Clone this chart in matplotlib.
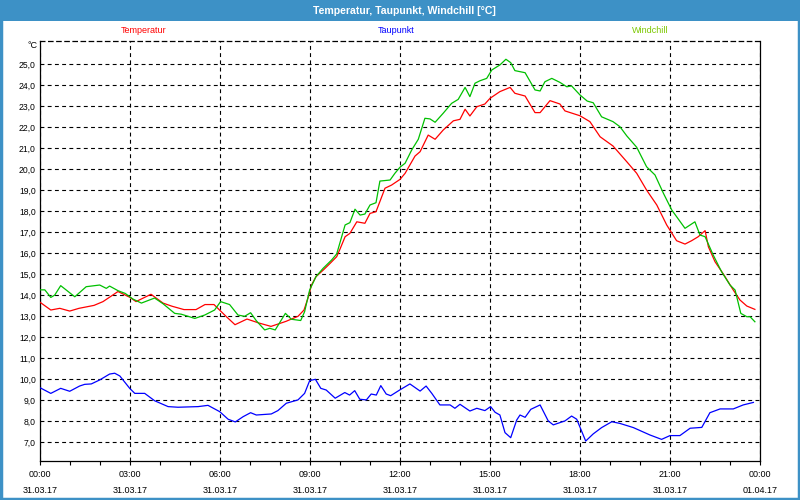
"""
Tagesverlauf Temperatur, Taupunkt, Windchill am 31.03.17
"""
import matplotlib

matplotlib.use("Agg")
import matplotlib.pyplot as plt
from matplotlib.patches import Rectangle
from matplotlib.ticker import FuncFormatter, MultipleLocator

plt.rcParams["font.family"] = ["Liberation Sans", "DejaVu Sans"]

# Stunden seit 31.03.17 00:00, Werte in °C
temp_hours = [0.0, 0.36, 0.66, 0.99, 1.3, 1.8, 2.1, 2.6, 3.0, 3.2, 3.7, 4.1, 4.4, 4.8, 5.2, 5.5, 5.8,
              6.2, 6.5, 6.9, 7.3, 7.7, 8.2, 8.6, 8.8, 8.94, 9.05, 9.2, 9.44, 9.67, 9.89, 10.0, 10.17,
              10.33, 10.56, 10.83, 11.0, 11.2, 11.5, 11.72, 12.0, 12.17, 12.5, 12.67, 12.94, 13.17,
              13.44, 13.78, 14.0, 14.17, 14.33, 14.56, 14.83, 15.0, 15.33, 15.67, 15.83, 16.17, 16.5,
              16.67, 17.0, 17.33, 17.5, 18.0, 18.33, 18.67, 19.1, 19.56, 19.89, 20.22, 20.56, 20.89,
              21.22, 21.5, 21.72, 21.94, 22.17, 22.28, 22.5, 22.78, 23.11, 23.33, 23.56, 23.83]
temp_values = [13.67, 13.3, 13.38, 13.25, 13.38, 13.52, 13.7, 14.18, 13.9, 13.7, 14.05, 13.63, 13.48,
               13.32, 13.32, 13.56, 13.56, 13.0, 12.6, 12.87, 12.68, 12.52, 12.76, 13.0, 13.3, 13.9,
               14.49, 14.89, 15.2, 15.52, 15.84, 16.2, 16.79, 16.95, 17.5, 17.43, 17.9, 17.98, 19.1,
               19.25, 19.52, 19.81, 20.63, 20.84, 21.63, 21.43, 21.87, 22.31, 22.38, 22.86, 22.54,
               22.98, 23.11, 23.38, 23.7, 23.9, 23.62, 23.49, 22.7, 22.7, 23.27, 23.11, 22.78, 22.55,
               22.27, 21.55, 21.11, 20.36, 19.81, 19.01, 18.3, 17.35, 16.6, 16.44, 16.6, 16.79, 17.08,
               16.31, 15.6, 15.01, 14.25, 13.78, 13.49, 13.33]

wind_hours = [0.0, 0.16, 0.36, 0.49, 0.69, 1.16, 1.54, 1.99, 2.21, 2.32, 2.6, 2.84, 3.1, 3.38, 3.82,
              4.1, 4.49, 4.71, 5.16, 5.49, 5.82, 6.02, 6.32, 6.6, 6.82, 7.02, 7.21, 7.49, 7.66, 7.84,
              8.18, 8.38, 8.69, 8.82, 8.99, 9.2, 9.44, 9.72, 9.89, 10.17, 10.33, 10.5, 10.67, 10.83,
              11.0, 11.2, 11.33, 11.67, 11.83, 12.0, 12.17, 12.39, 12.61, 12.83, 13.0, 13.17, 13.44,
              13.72, 13.94, 14.17, 14.33, 14.5, 14.67, 14.89, 15.06, 15.33, 15.53, 15.69, 15.83,
              16.17, 16.5, 16.67, 16.83, 17.06, 17.33, 17.56, 17.72, 18.0, 18.24, 18.44, 18.72, 19.1,
              19.33, 19.56, 19.89, 20.22, 20.5, 20.78, 21.06, 21.5, 21.83, 22.0, 22.17, 22.44, 22.72,
              23.0, 23.17, 23.36, 23.56, 23.67, 23.83]
wind_values = [14.26, 14.26, 13.9, 14.01, 14.46, 13.93, 14.41, 14.49, 14.33, 14.44, 14.22, 14.09,
               13.82, 13.63, 13.87, 13.6, 13.14, 13.1, 12.9, 13.06, 13.3, 13.7, 13.56, 13.06, 13.0,
               13.17, 12.79, 12.35, 12.43, 12.35, 13.14, 12.86, 12.8, 13.22, 14.26, 14.89, 15.29,
               15.68, 15.97, 17.35, 17.46, 18.1, 17.82, 17.87, 18.3, 18.41, 19.44, 19.49, 19.81, 20.1,
               20.29, 20.92, 21.43, 22.43, 22.4, 22.24, 22.67, 23.14, 23.33, 23.9, 23.46, 24.1, 24.22,
               24.33, 24.73, 24.97, 25.24, 25.08, 24.7, 24.6, 23.78, 23.73, 24.17, 24.33, 24.14, 23.93,
               23.97, 23.54, 23.25, 23.17, 22.5, 22.27, 22.03, 21.59, 21.05, 20.12, 19.73, 18.86,
               18.06, 17.19, 17.5, 16.87, 16.79, 15.92, 15.12, 14.49, 14.25, 13.14, 12.98, 12.98, 12.74]

dew_hours = [0.0, 0.36, 0.69, 0.99, 1.32, 1.49, 1.71, 1.99, 2.32, 2.49, 2.66, 2.99, 3.16, 3.49, 3.82,
             4.27, 4.6, 5.27, 5.6, 5.99, 6.27, 6.51, 6.77, 7.02, 7.21, 7.71, 7.93, 8.21, 8.6, 8.82,
             8.99, 9.18, 9.36, 9.54, 9.84, 10.16, 10.32, 10.49, 10.66, 10.88, 11.04, 11.21, 11.36,
             11.54, 11.69, 12.0, 12.33, 12.67, 12.87, 13.06, 13.33, 13.67, 13.83, 14.0, 14.33, 14.56,
             14.83, 15.02, 15.17, 15.33, 15.5, 15.69, 15.89, 16.0, 16.17, 16.36, 16.67, 16.94, 17.11,
             17.5, 17.72, 17.89, 18.19, 18.44, 18.72, 19.06, 19.33, 19.78, 20.33, 20.72, 21.0, 21.33,
             21.67, 22.06, 22.33, 22.67, 23.11, 23.44, 23.78]
dew_values = [9.6, 9.33, 9.57, 9.43, 9.68, 9.76, 9.78, 9.97, 10.25, 10.29, 10.16, 9.57, 9.33, 9.33,
              8.98, 8.7, 8.67, 8.7, 8.76, 8.46, 8.1, 7.97, 8.22, 8.41, 8.3, 8.35, 8.51, 8.86, 9.02,
              9.33, 9.94, 10.0, 9.57, 9.49, 9.1, 9.37, 9.25, 9.46, 9.05, 9.02, 9.3, 9.25, 9.7, 9.3,
              9.22, 9.5, 9.78, 9.44, 9.68, 9.33, 8.78, 8.78, 8.62, 8.81, 8.49, 8.62, 8.51, 8.7, 8.43,
              8.3, 7.46, 7.22, 8.06, 8.3, 8.19, 8.57, 8.78, 8.02, 7.83, 8.02, 8.25, 8.1, 7.06, 7.4,
              7.7, 7.98, 7.9, 7.7, 7.35, 7.14, 7.32, 7.32, 7.67, 7.71, 8.41, 8.59, 8.59, 8.78, 8.9]

tick_hours = [0, 3, 6, 9, 12, 15, 18, 21, 24]
tick_labels = ["00:00\n31.03.17", "03:00\n31.03.17", "06:00\n31.03.17", "09:00\n31.03.17",
               "12:00\n31.03.17", "15:00\n31.03.17", "18:00\n31.03.17", "21:00\n31.03.17",
               "00:00\n01.04.17"]
series_names = ["Temperatur", "Taupunkt", "Windchill"]

BAR_BLUE = "#3d91c6"
LINE_COLORS = {"Temperatur": "#ff0000", "Taupunkt": "#0000ff", "Windchill": "#00c000"}
TEXT_COLORS = {"Temperatur": "#ff0000", "Taupunkt": "#0000ff", "Windchill": "#7cc800"}
W, H = 800, 500


def px(x, y):
    """Pixelkoordinaten (oben links) -> Figure-Koordinaten"""
    return x / W, 1 - y / H


def draw_frame(fig):
    # Titelleiste und Rahmen
    fig.patches.append(Rectangle((0, 1 - 21 / H), 1, 21 / H, transform=fig.transFigure,
                                 facecolor=BAR_BLUE, edgecolor="none", zorder=0))
    fig.patches.append(Rectangle((0.001, 0.002), 0.998, 0.996, transform=fig.transFigure,
                                 facecolor="none", edgecolor=BAR_BLUE, lw=2.5, zorder=0))
    fig.text(*px(404, 10.5), "Temperatur, Taupunkt, Windchill [°C]", color="white",
             fontsize=7.6, fontweight="bold", ha="center", va="center")
    # Legende als farbige Texte
    for name, xpos in zip(series_names, [144, 396, 650]):
        fig.text(*px(xpos, 30.5), name, color=TEXT_COLORS[name], fontsize=6.5,
                 ha="center", va="center")
    fig.text(*px(37, 45), "°C", fontsize=6.5, ha="right", va="center")


if __name__ == "__main__":
    fig = plt.figure(figsize=(W / 100, H / 100), dpi=100, facecolor="white")
    ax = fig.add_axes([40 / W, 1 - 461 / H, 720 / W, 420 / H])
    draw_frame(fig)

    ax.plot(temp_hours, temp_values, color=LINE_COLORS["Temperatur"], lw=0.9, zorder=3)
    ax.plot(wind_hours, wind_values, color=LINE_COLORS["Windchill"], lw=0.9, zorder=3)
    ax.plot(dew_hours, dew_values, color=LINE_COLORS["Taupunkt"], lw=0.9, zorder=3)

    ax.set_xlim(0, 24)
    ax.set_ylim(6.11, 26.11)
    ax.set_xticks(tick_hours)
    ax.set_xticklabels(tick_labels, fontsize=6.5, linespacing=2.05)
    ax.xaxis.set_minor_locator(MultipleLocator(1))
    ax.set_yticks(list(range(7, 26)))
    ax.yaxis.set_major_formatter(FuncFormatter(lambda v, p: f"{v:.1f}".replace(".", ",")))
    ax.tick_params(axis="x", which="both", direction="out", length=3, width=0.8, pad=3.2)
    ax.tick_params(axis="y", length=0, pad=3, labelsize=6.2)

    ax.grid(True, color="black", linestyle=(0, (3.5, 3)), lw=0.8)
    for side in ["left", "right", "bottom", "top"]:
        ax.spines[side].set_linewidth(0.9)
    ax.spines["top"].set_linestyle((0, (3.5, 3)))

    fig.savefig("out.png", dpi=100, facecolor="white")
